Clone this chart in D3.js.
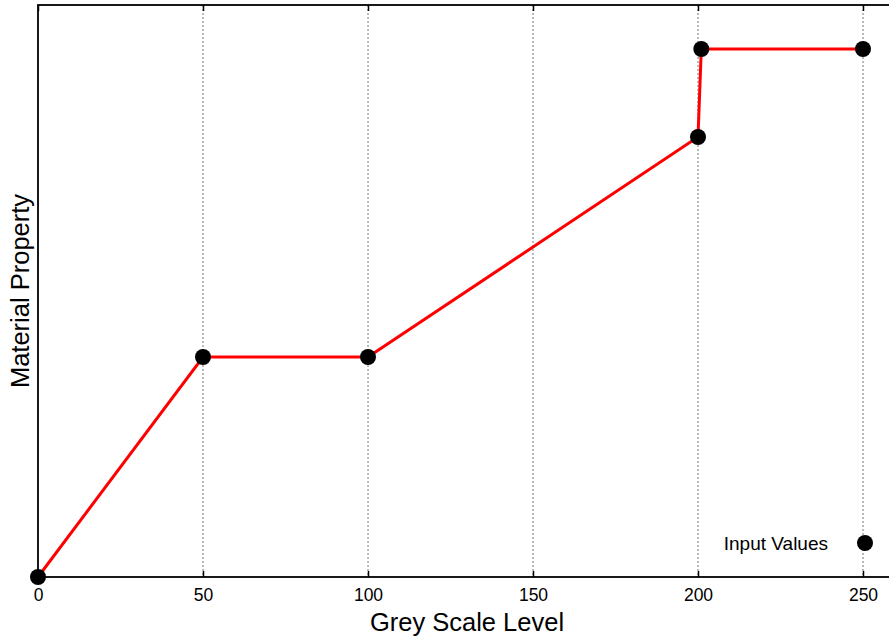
<!DOCTYPE html>
<html>
<head>
<meta charset="UTF-8">
<script src="https://d3js.org/d3.v7.min.js"></script>
<style>
body { margin: 0; background: #fff; }
text { font-family: "Liberation Sans", Arial, sans-serif; }
</style>
</head>
<body>
<svg width="889" height="636"></svg>
<script>
// grey level -> material property
var greyLevels = [0, 50, 100, 200, 201, 250];
var propValues = [0, 1, 1, 2, 2.4, 2.4];
var xTicks = [0, 50, 100, 150, 200, 250];

var svg = d3.select("svg");
var plotLeft = 38, plotTop = 5, plotBottom = 577;

var x = d3.scaleLinear().domain([0, 260]).range([plotLeft, plotLeft + 858]);
var y = d3.scaleLinear().domain([0, 2.6]).range([plotBottom, plotTop]);

var pts = greyLevels.map(function(g, i) { return {g: g, v: propValues[i]}; });

// grid
svg.append("g").selectAll("line")
  .data(xTicks.slice(1))
  .enter().append("line")
    .attr("x1", function(d) { return x(d); })
    .attr("x2", function(d) { return x(d); })
    .attr("y1", plotTop)
    .attr("y2", plotBottom)
    .attr("stroke", "#777")
    .attr("stroke-width", 1)
    .attr("stroke-dasharray", "2,2");

// inward ticks, bottom and top
var xAxis = d3.axisBottom(x).tickValues(xTicks).tickSize(-6).tickPadding(12);
var gx = svg.append("g")
  .attr("transform", "translate(0," + plotBottom + ")")
  .call(xAxis);
gx.select(".domain").remove();
gx.selectAll("line").attr("stroke", "#000").attr("stroke-width", 1.5);
gx.selectAll("text").attr("font-size", 17.5).attr("fill", "#000")
  .attr("font-family", "Liberation Sans, Arial, sans-serif");

var gxTop = svg.append("g")
  .attr("transform", "translate(0," + plotTop + ")")
  .call(d3.axisTop(x).tickValues(xTicks).tickSize(-6).tickFormat(""));
gxTop.select(".domain").remove();
gxTop.selectAll("line").attr("stroke", "#000").attr("stroke-width", 1.5);

// frame
svg.append("rect")
  .attr("x", plotLeft)
  .attr("y", plotTop)
  .attr("width", 858)
  .attr("height", plotBottom - plotTop)
  .attr("fill", "none")
  .attr("stroke", "#000")
  .attr("stroke-width", 1.8);

// line
var line = d3.line()
  .x(function(d) { return x(d.g); })
  .y(function(d) { return y(d.v); });

svg.append("path")
  .datum(pts)
  .attr("d", line)
  .attr("fill", "none")
  .attr("stroke", "#ff0000")
  .attr("stroke-width", 3);

svg.append("g").selectAll("circle")
  .data(pts)
  .enter().append("circle")
    .attr("cx", function(d) { return x(d.g); })
    .attr("cy", function(d) { return y(d.v); })
    .attr("r", 8)
    .attr("fill", "#000");

// legend
svg.append("text")
  .attr("x", 828)
  .attr("y", 550)
  .attr("text-anchor", "end")
  .attr("font-size", 19)
  .text("Input Values");
svg.append("circle")
  .attr("cx", 865)
  .attr("cy", 543)
  .attr("r", 8)
  .attr("fill", "#000");

// axis titles
svg.append("text")
  .attr("x", 467)
  .attr("y", 631)
  .attr("text-anchor", "middle")
  .attr("font-size", 25.5)
  .text("Grey Scale Level");

svg.append("text")
  .attr("transform", "translate(29,291) rotate(-90)")
  .attr("text-anchor", "middle")
  .attr("font-size", 25.5)
  .text("Material Property");
</script>
</body>
</html>
